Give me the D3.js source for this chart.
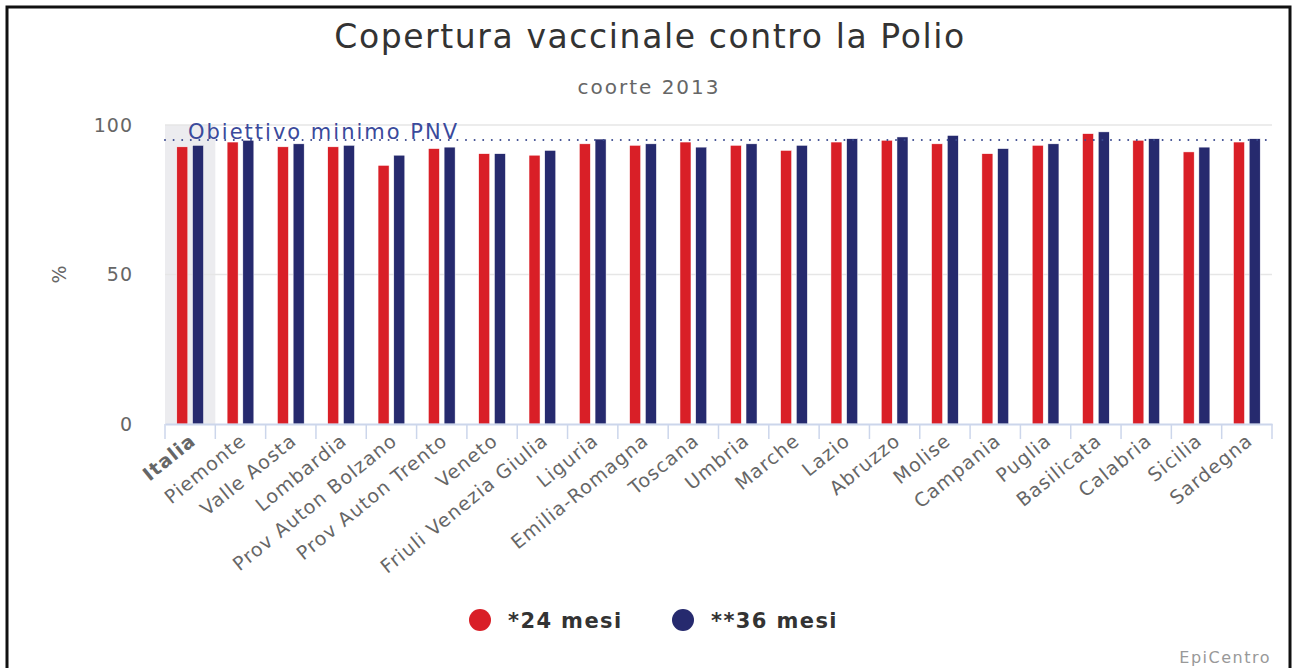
<!DOCTYPE html>
<html>
<head>
<meta charset="utf-8">
<script src="https://cdn.jsdelivr.net/npm/d3@7"></script>
<style>
  body { margin: 0; background: #fff; }
  text { font-family: "DejaVu Sans", sans-serif; }
</style>
</head>
<body>
<script>
// regions, coverage at 24 and 36 months
let regions = ["Italia", "Piemonte", "Valle Aosta", "Lombardia", "Prov Auton Bolzano",
  "Prov Auton Trento", "Veneto", "Friuli Venezia Giulia", "Liguria", "Emilia-Romagna",
  "Toscana", "Umbria", "Marche", "Lazio", "Abruzzo", "Molise", "Campania", "Puglia",
  "Basilicata", "Calabria", "Sicilia", "Sardegna"]
let mesi24 = [92.7, 94.3, 92.7, 92.7, 86.5, 92.1, 90.4, 89.9, 93.7, 93.2, 94.3,
  93.2, 91.5, 94.3, 94.9, 93.7, 90.4, 93.2, 97.1, 94.9, 91.0, 94.3]
let mesi36 = [93.2, 94.9, 93.7, 93.2, 89.9, 92.6, 90.4, 91.5, 95.3, 93.7, 92.6,
  93.7, 93.2, 95.4, 96.0, 96.5, 92.1, 93.7, 97.7, 95.4, 92.6, 95.4]
let seriesNames = ["*24 mesi", "**36 mesi"]
let colors = ["#d91f27", "#262a6e"]
let yTicks = [0, 50, 100]
let obiettivo = 95

let width = 1295, height = 668
let plotLeft = 165, plotRight = 1272, plotTop = 125, plotBottom = 424

let svg = d3.select("body").append("svg")
  .attr("width", width)
  .attr("height", height)

// frame
svg.append("rect")
  .attr("x", 7).attr("y", 7)
  .attr("width", 1283).attr("height", 700)
  .attr("fill", "none")
  .attr("stroke", "#111")
  .attr("stroke-width", 3)

let x = d3.scaleBand().domain(regions).range([plotLeft, plotRight])
let xs = d3.scaleBand().domain([0, 1]).range([0, x.bandwidth()]).paddingInner(0.3).paddingOuter(0.75)
let y = d3.scaleLinear().domain([0, 100]).range([plotBottom, plotTop])

// Italia highlight band
svg.append("rect")
  .attr("x", x("Italia")).attr("y", plotTop)
  .attr("width", x.bandwidth()).attr("height", plotBottom - plotTop)
  .attr("fill", "#ececef")

// gridlines
svg.append("g").selectAll("line")
  .data(yTicks.filter(d => d > 0))
  .enter().append("line")
  .attr("x1", plotLeft).attr("x2", plotRight)
  .attr("y1", d => y(d)).attr("y2", d => y(d))
  .attr("stroke", "#e6e6e6")
  .attr("stroke-width", 1.5)

// y axis labels
let yAxis = svg.append("g")
  .attr("transform", `translate(${plotLeft},0)`)
  .call(d3.axisLeft(y).tickValues(yTicks).tickSize(0).tickPadding(32))
yAxis.select(".domain").remove()
yAxis.selectAll("text")
  .attr("fill", "#666")
  .style("font-size", "19px")
  .style("letter-spacing", "1px")

svg.append("text")
  .attr("transform", `translate(66,${y(50)}) rotate(-90)`)
  .attr("text-anchor", "middle")
  .attr("fill", "#666")
  .style("font-size", "19px")
  .text("%")

// bars
let data = regions.map((r, i) => ({ region: r, values: [mesi24[i], mesi36[i]] }))
let groups = svg.append("g").selectAll("g")
  .data(data)
  .enter().append("g")
  .attr("transform", d => `translate(${x(d.region)},0)`)

groups.selectAll("rect")
  .data(d => d.values.map((v, k) => ({ k: k, v: v })))
  .enter().append("rect")
  .attr("x", d => xs(d.k))
  .attr("y", d => y(d.v))
  .attr("width", xs.bandwidth())
  .attr("height", d => plotBottom - y(d.v))
  .attr("fill", d => colors[d.k])
  .attr("stroke", "#fff")
  .attr("stroke-width", 0.5)

// x axis
let xAxis = svg.append("g")
  .attr("transform", `translate(0,${plotBottom})`)
  .call(d3.axisBottom(x).tickSize(0).tickPadding(0))
xAxis.select(".domain")
  .attr("stroke", "#ccd6eb")
  .attr("stroke-width", 2)
xAxis.selectAll(".tick text")
  .attr("text-anchor", "end")
  .attr("dy", 0)
  .attr("transform", "translate(7,19) rotate(-39)")
  .attr("fill", "#666")
  .style("font-size", "19px")
  .style("letter-spacing", "1.1px")
  .style("font-weight", d => d == "Italia" ? "bold" : "normal")

// boundary ticks
svg.append("g").selectAll("line")
  .data(regions.concat(["end"]))
  .enter().append("line")
  .attr("x1", (d, i) => plotLeft + i * x.step())
  .attr("x2", (d, i) => plotLeft + i * x.step())
  .attr("y1", plotBottom)
  .attr("y2", plotBottom + 15)
  .attr("stroke", "#ccd6eb")
  .attr("stroke-width", 1.5)

// PNV target line
svg.append("line")
  .attr("x1", plotLeft).attr("x2", plotRight)
  .attr("y1", y(obiettivo)).attr("y2", y(obiettivo))
  .attr("stroke", "#3b4a8f")
  .attr("stroke-width", 2)
  .attr("stroke-linecap", "round")
  .attr("stroke-dasharray", "0,8.6")

svg.append("text")
  .attr("x", 188)
  .attr("y", y(obiettivo) - 1)
  .attr("fill", "#3a4a9c")
  .style("font-size", "21px")
  .style("letter-spacing", "2px")
  .text("Obiettivo minimo PNV")

// titles
svg.append("text")
  .attr("x", 650).attr("y", 48)
  .attr("text-anchor", "middle")
  .attr("fill", "#333")
  .style("font-size", "33px")
  .style("letter-spacing", "1.6px")
  .text("Copertura vaccinale contro la Polio")

svg.append("text")
  .attr("x", 649).attr("y", 94)
  .attr("text-anchor", "middle")
  .attr("fill", "#666")
  .style("font-size", "20px")
  .style("letter-spacing", "2px")
  .text("coorte 2013")

// legend
let legend = svg.append("g").selectAll("g")
  .data(seriesNames)
  .enter().append("g")
  .attr("transform", (d, i) => `translate(${480 + i * 203},620)`)
legend.append("circle")
  .attr("r", 11)
  .attr("fill", (d, i) => colors[i])
legend.append("text")
  .attr("x", 28).attr("y", 8)
  .attr("fill", "#333")
  .style("font-size", "21px")
  .style("font-weight", "bold")
  .style("letter-spacing", "1.4px")
  .text(d => d)

svg.append("text")
  .attr("x", 1271).attr("y", 663)
  .attr("text-anchor", "end")
  .attr("fill", "#999")
  .style("font-size", "16px")
  .style("letter-spacing", "1.5px")
  .text("EpiCentro")
</script>
</body>
</html>
